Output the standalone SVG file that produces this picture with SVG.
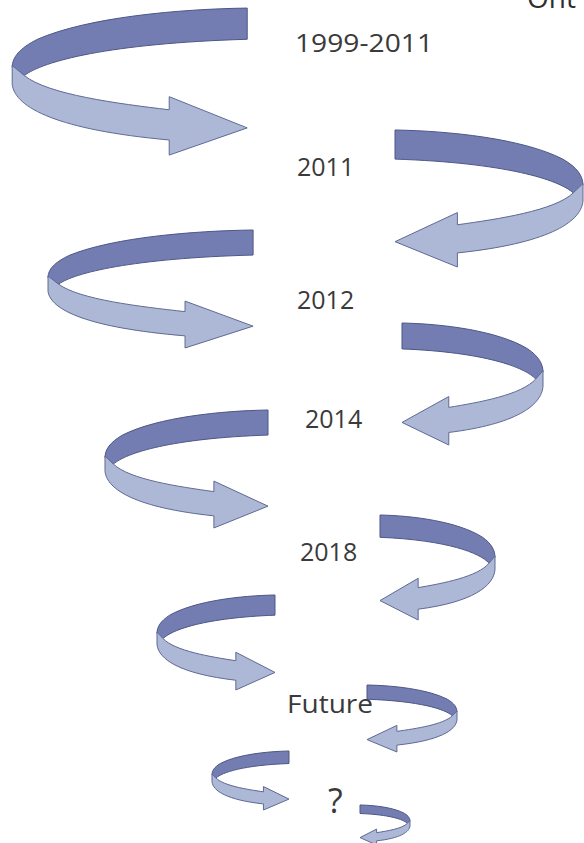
<svg xmlns="http://www.w3.org/2000/svg" xmlns:xlink="http://www.w3.org/1999/xlink" width="584" height="843" viewBox="0 0 584 843">
<style>
.back{fill:#737db1;stroke:#4d5787;stroke-width:1;vector-effect:non-scaling-stroke;stroke-linejoin:round}
.front{fill:#adb7d6;stroke:#5f6a94;stroke-width:1;vector-effect:non-scaling-stroke;stroke-linejoin:round}
.lbl{font-family:"Open Sans","Liberation Sans",sans-serif;font-size:25px;fill:#3a3a3a}
</style>
<defs>
<g id="spiral">
<path class="back" d="M247,9 C180,10 90,18 40,40 C22,49 15,58 15,68 L27,76 C45,62 110,44 247,40 Z"/>
<path class="front" d="M15,66 L15,85 C18,108 60,130 170,140 L170,155 L247,128 L170,97 L170,110 C120,104 50,95 27,76 Z"/>
</g>
</defs>
<rect width="584" height="843" fill="#ffffff"/>
<g id="connectors">
<g id="arrow-1"><use xlink:href="#spiral" transform="translate(-3,-1) scale(1.013,1.007)"/></g>
<g id="arrow-2"><use xlink:href="#spiral" transform="translate(595.15,121.55) scale(-0.8103,0.9384)"/></g>
<g id="arrow-3"><use xlink:href="#spiral" transform="translate(34.74,222.73) scale(0.884,0.808)"/></g>
<g id="arrow-4"><use xlink:href="#spiral" transform="translate(552.12,315.48) scale(-0.6078,0.8356)"/></g>
<g id="arrow-5"><use xlink:href="#spiral" transform="translate(94.46,402.73) scale(0.7026,0.808)"/></g>
<g id="arrow-6"><use xlink:href="#spiral" transform="translate(502.44,508.53) scale(-0.4957,0.7192)"/></g>
<g id="arrow-7"><use xlink:href="#spiral" transform="translate(149.37,589.14) scale(0.5086,0.6507)"/></g>
<g id="arrow-8"><use xlink:href="#spiral" transform="translate(462.82,680.87) scale(-0.3879,0.4589)"/></g>
<g id="arrow-9"><use xlink:href="#spiral" transform="translate(207.02,747.36) scale(0.3319,0.4041)"/></g>
<g id="arrow-10"><use xlink:href="#spiral" transform="translate(413.23,802.53) scale(-0.2155,0.274)"/></g>
</g>
<g id="title"><text class="lbl" x="527" y="8" style="font-size:28px;fill:#2e2e2e">Ont</text></g>
<g id="label-1999-2011"><text class="lbl" x="295" y="52" textLength="138" lengthAdjust="spacingAndGlyphs">1999-2011</text></g>
<g id="label-2011"><text class="lbl" x="297" y="176">2011</text></g>
<g id="label-2012"><text class="lbl" x="297" y="309">2012</text></g>
<g id="label-2014"><text class="lbl" x="305" y="428">2014</text></g>
<g id="label-2018"><text class="lbl" x="300" y="561">2018</text></g>
<g id="label-future"><text class="lbl" x="287" y="713" textLength="86" lengthAdjust="spacingAndGlyphs">Future</text></g>
<g id="label-q"><text class="lbl" x="328" y="813" style="font-size:34px">?</text></g>
</svg>
